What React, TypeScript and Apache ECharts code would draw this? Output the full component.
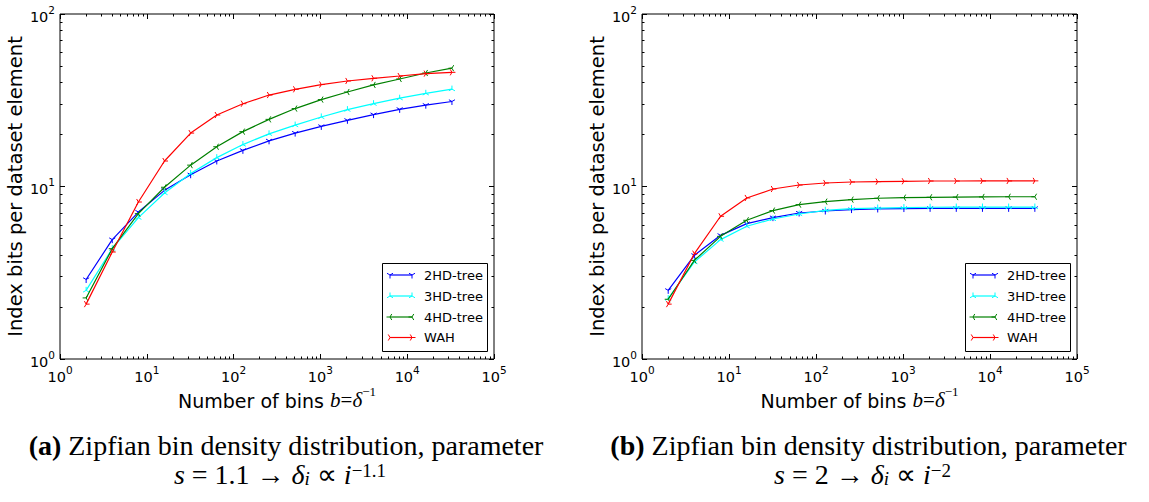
import React, { useEffect, useRef } from "react";
import * as echarts from "echarts";

// ---------- data ----------
const binCounts = [2, 4, 8, 16, 32, 64, 128, 256, 512, 1024, 2048, 4096, 8192, 16384, 32768];

// panel (a): Zipf s = 1.1
const hd2A = [2.89, 4.92, 7.11, 9.5, 11.7, 14.06, 16.2, 18.4, 20.4, 22.3, 24.2, 26.1, 28.0, 29.6, 31.1];
const hd3A = [2.5, 4.36, 6.6, 9.17, 11.9, 14.7, 17.5, 20.2, 22.7, 25.3, 27.9, 30.2, 32.5, 34.7, 36.7];
const hd4A = [2.26, 4.36, 6.96, 9.9, 13.3, 17.0, 20.8, 24.5, 28.3, 31.9, 35.3, 38.8, 42.0, 45.5, 48.5];
const wahA = [2.08, 4.17, 8.13, 14.05, 20.4, 25.96, 30.2, 33.9, 36.6, 39.0, 40.9, 42.4, 43.7, 45.1, 45.9];

// panel (b): Zipf s = 2
const hd2B = [2.5, 3.99, 5.21, 6.09, 6.6, 7.02, 7.21, 7.35, 7.41, 7.45, 7.47, 7.47, 7.47, 7.47, 7.47];
const hd3B = [2.24, 3.65, 4.92, 5.88, 6.48, 6.93, 7.28, 7.45, 7.5, 7.55, 7.58, 7.6, 7.6, 7.6, 7.6];
const hd4B = [2.22, 3.73, 5.14, 6.37, 7.25, 7.85, 8.17, 8.39, 8.55, 8.62, 8.66, 8.68, 8.7, 8.72, 8.72];
const wahB = [2.08, 4.08, 6.72, 8.58, 9.67, 10.2, 10.48, 10.62, 10.67, 10.72, 10.76, 10.76, 10.77, 10.77, 10.78];

const seriesNames = ["2HD-tree", "3HD-tree", "4HD-tree", "WAH"];
const seriesColors = ["#0000ff", "#00ffff", "#008000", "#ff0000"];

const xMajorTicks = [1, 10, 100, 1000, 10000, 100000];
const yMajorTicks = [1, 10, 100];
const xMinorTicks = [
  2, 3, 4, 5, 6, 7, 8, 9,
  20, 30, 40, 50, 60, 70, 80, 90,
  200, 300, 400, 500, 600, 700, 800, 900,
  2000, 3000, 4000, 5000, 6000, 7000, 8000, 9000,
  20000, 30000, 40000, 50000, 60000, 70000, 80000, 90000,
];
const yMinorTicks = [2, 3, 4, 5, 6, 7, 8, 9, 20, 30, 40, 50, 60, 70, 80, 90];

const yTitle = "Index bits per dataset element";
const captionLetters = ["(a)", "(b)"];
const captionLine1 = "Zipfian bin density distribution, parameter";
const captionS = ["1.1", "2"];
const captionExp = ["\u22121.1", "\u22122"];

// ---------- marker shapes (matplotlib tri markers) ----------
const markerPaths = [
  "M5 5L5 10M5 5L9.33 2.5M5 5L0.67 2.5M5 0L5 0.01", // tri_down
  "M5 5L5 0M5 5L9.33 7.5M5 5L0.67 7.5M5 10L5 9.99", // tri_up
  "M5 5L0 5M5 5L7.5 0.67M5 5L7.5 9.33M10 5L9.99 5", // tri_left
  "M5 5L10 5M5 5L2.5 0.67M5 5L2.5 9.33M0 5L0.01 5", // tri_right
];
const markerShapeNames = ["triDownMk", "triUpMk", "triLeftMk", "triRightMk"];
let shapesRegistered = false;
function registerShapes() {
  if (shapesRegistered) return;
  markerPaths.forEach((d, i) => {
    echarts.graphic.registerShape(markerShapeNames[i], echarts.graphic.extendPath(d, {}) as any);
  });
  shapesRegistered = true;
}

const grids = [
  { left: 60, top: 14, width: 434, height: 345 },
  { left: 642, top: 14, width: 435, height: 345 },
];

const tickLabelRich = {
  b: { fontSize: 14.5, fontFamily: "DejaVu Sans", color: "#000", lineHeight: 20, verticalAlign: "bottom" },
  s: { fontSize: 10.5, fontFamily: "DejaVu Sans", color: "#000", lineHeight: 9, verticalAlign: "top" },
};
const powLabel = (v: number) => `{b|10}{s|${Math.round(Math.log10(v))}}`;

function makeAxis(
  grid: number,
  pos: string,
  min: number,
  max: number,
  ticks: number[],
  len: number,
  labels: boolean
) {
  return {
    gridIndex: grid,
    type: "log",
    logBase: 10,
    min,
    max,
    position: pos,
    axisLine: { show: false, onZero: false },
    splitLine: { show: false },
    axisTick: {
      show: true,
      inside: true,
      length: len,
      customValues: ticks,
      lineStyle: { color: "#000", width: 1 },
    },
    axisLabel: labels
      ? { show: true, margin: 5, customValues: ticks, formatter: powLabel, rich: tickLabelRich }
      : { show: false },
  };
}

function legendGraphic(boxRight: number) {
  const boxW = 105;
  const boxX = boxRight - boxW;
  const boxY = 263;
  const rowsY = [275, 296, 317, 337.5];
  const children: any[] = [
    {
      type: "rect",
      shape: { x: boxX + 0.5, y: boxY + 0.5, width: boxW, height: 88 },
      style: { fill: "#fff", stroke: "#000", lineWidth: 1 },
    },
  ];
  const s = 0.7;
  seriesNames.forEach((name, i) => {
    const y = rowsY[i];
    const x1 = boxX + 8;
    const x2 = boxX + 30;
    children.push({
      type: "line",
      shape: { x1, y1: y, x2, y2: y },
      style: { stroke: seriesColors[i], lineWidth: 1.2 },
    });
    [x1, x2].forEach((cx) => {
      children.push({
        type: markerShapeNames[i],
        x: cx - 5 * s,
        y: y - 5 * s,
        scaleX: s,
        scaleY: s,
        style: { fill: "none", stroke: seriesColors[i], lineWidth: 1, strokeNoScale: true },
      });
    });
    children.push({
      type: "text",
      x: boxX + 42,
      y,
      style: {
        text: name,
        fontSize: 13,
        fontFamily: "DejaVu Sans",
        fill: "#000",
        align: "left",
        verticalAlign: "middle",
        textAlign: "left",
        textVerticalAlign: "middle",
      },
    });
  });
  return { type: "group", z: 100, children };
}

function App() {
  const ref = useRef<HTMLDivElement>(null);
  useEffect(() => {
    if (!ref.current) return;
    registerShapes();
    const chart = echarts.init(ref.current, undefined, { renderer: "svg" });

    const xAxes: any[] = [];
    const yAxes: any[] = [];
    grids.forEach((_, g) => {
      xAxes.push(makeAxis(g, "bottom", 1, 100000, xMajorTicks, 5, true));
      xAxes.push(makeAxis(g, "top", 1, 100000, xMajorTicks, 5, false));
      xAxes.push(makeAxis(g, "bottom", 1, 100000, xMinorTicks, 2.5, false));
      xAxes.push(makeAxis(g, "top", 1, 100000, xMinorTicks, 2.5, false));
      yAxes.push(makeAxis(g, "left", 1, 100, yMajorTicks, 5, true));
      yAxes.push(makeAxis(g, "right", 1, 100, yMajorTicks, 5, false));
      yAxes.push(makeAxis(g, "left", 1, 100, yMinorTicks, 2.5, false));
      yAxes.push(makeAxis(g, "right", 1, 100, yMinorTicks, 2.5, false));
    });

    const panels = [
      [hd2A, hd3A, hd4A, wahA],
      [hd2B, hd3B, hd4B, wahB],
    ];
    const series: any[] = [];
    panels.forEach((panel, g) => {
      panel.forEach((vals, i) => {
        series.push({
          type: "line",
          name: seriesNames[i],
          xAxisIndex: g * 4,
          yAxisIndex: g * 4,
          data: binCounts.map((b, k) => [b, vals[k]]),
          symbol: "path://" + markerPaths[i],
          symbolSize: 7,
          symbolKeepAspect: true,
          showSymbol: true,
          lineStyle: { color: seriesColors[i], width: 1.2 },
          itemStyle: { color: seriesColors[i], borderColor: seriesColors[i], borderWidth: 1 },
          z: 3 + i,
        });
      });
    });

    const graphics: any[] = [];
    grids.forEach((gr, g) => {
      const cx = gr.left + gr.width / 2;
      // y-axis title
      graphics.push({
        type: "text",
        x: gr.left - 44.5,
        y: gr.top + gr.height / 2,
        rotation: Math.PI / 2,
        style: {
          text: yTitle,
          fontSize: 19.5,
          fontFamily: "DejaVu Sans",
          fill: "#000",
          align: "center",
          verticalAlign: "middle",
          textAlign: "center",
          textVerticalAlign: "middle",
        },
      });
      // x-axis title
      graphics.push({
        type: "text",
        x: cx,
        y: 397.5,
        style: {
          text: "{t|Number of bins }{m|b}{e|=}{m|\u03b4}{p|\u22121}",
          align: "center",
          verticalAlign: "middle",
          textAlign: "center",
          textVerticalAlign: "middle",
          rich: {
            t: { fontSize: 19, fontFamily: "DejaVu Sans", fill: "#000", lineHeight: 26, verticalAlign: "bottom" },
            m: { fontSize: 21, fontFamily: "Liberation Serif", fontStyle: "italic", fill: "#000", lineHeight: 26, verticalAlign: "bottom" },
            e: { fontSize: 21, fontFamily: "Liberation Serif", fill: "#000", lineHeight: 26, verticalAlign: "bottom" },
            p: { fontSize: 13, fontFamily: "Liberation Serif", fill: "#000", lineHeight: 12, verticalAlign: "top" },
          },
        },
      });
      graphics.push(legendGraphic(gr.left + gr.width - 7));
      // captions
      const capX = cx + 9;
      graphics.push({
        type: "text",
        x: capX,
        y: 445.5,
        style: {
          text: `{b|${captionLetters[g]}}{r| ${captionLine1}}`,
          align: "center",
          verticalAlign: "middle",
          textAlign: "center",
          textVerticalAlign: "middle",
          rich: {
            b: { fontSize: 28, fontFamily: "Liberation Serif", fontWeight: "bold", fill: "#000", lineHeight: 27 },
            r: { fontSize: 28, fontFamily: "Liberation Serif", fill: "#000", lineHeight: 27 },
          },
        },
      });
      graphics.push({
        type: "text",
        x: capX - 6,
        y: 474,
        style: {
          text: `{i|s}{r| = ${captionS[g]} \u2192 }{i|\u03b4}{sub|i}{r| \u221d }{i|i}{sup|${captionExp[g]}}`,
          align: "center",
          verticalAlign: "middle",
          textAlign: "center",
          textVerticalAlign: "middle",
          rich: {
            i: { fontSize: 28, fontFamily: "Liberation Serif", fontStyle: "italic", fill: "#000", lineHeight: 27 },
            r: { fontSize: 28, fontFamily: "Liberation Serif", fill: "#000", lineHeight: 27 },
            sub: { fontSize: 19, fontFamily: "Liberation Serif", fontStyle: "italic", fill: "#000", lineHeight: 15, verticalAlign: "bottom" },
            sup: { fontSize: 19, fontFamily: "Liberation Serif", fill: "#000", lineHeight: 14, verticalAlign: "top" },
          },
        },
      });
    });

    chart.setOption({
      animation: false,
      backgroundColor: "#fff",
      grid: grids.map((g) => ({
        ...g,
        show: true,
        borderColor: "#000",
        borderWidth: 1,
        backgroundColor: "transparent",
        containLabel: false,
      })),
      xAxis: xAxes,
      yAxis: yAxes,
      series,
      graphic: { elements: graphics },
    });
    return () => chart.dispose();
  }, []);
  return (
    <div
      ref={ref}
      style={{ position: "fixed", left: 0, top: 0, width: 1149, height: 502, background: "#fff" }}
    />
  );
}

export default App;
